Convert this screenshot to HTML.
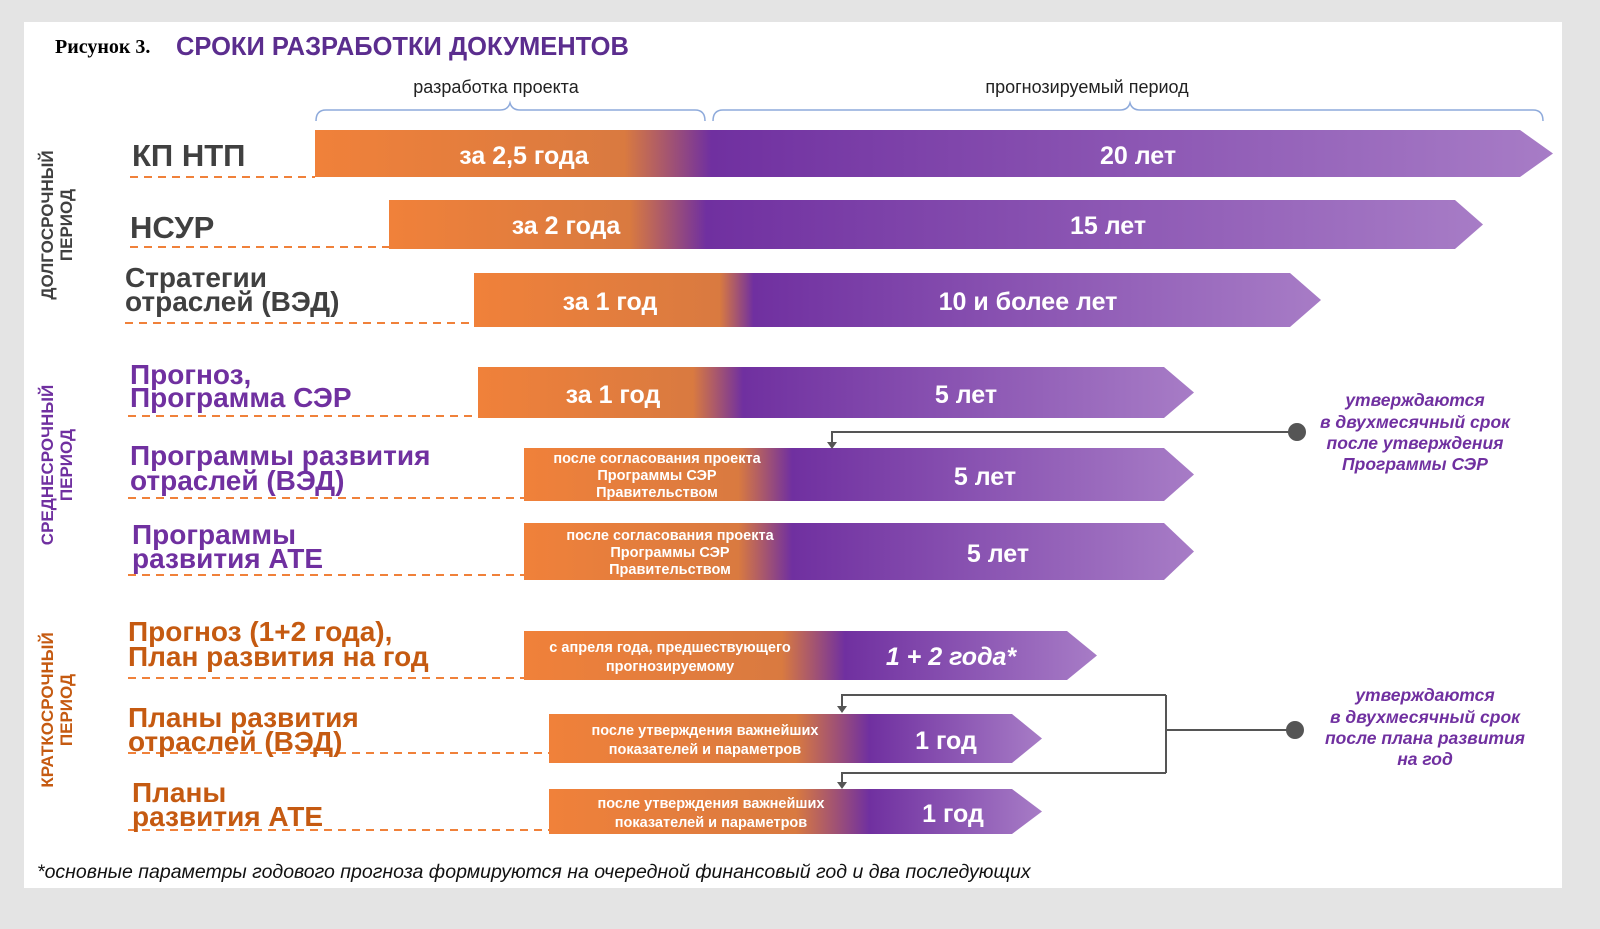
<!DOCTYPE html>
<html><head><meta charset="utf-8"><style>
body{margin:0;width:1600px;height:929px;background:#e4e4e4;overflow:hidden}
svg{position:absolute;left:0;top:0}
</style></head><body>
<svg width="1600" height="929" viewBox="0 0 1600 929" font-family="'Liberation Sans', sans-serif">
<defs>
<linearGradient id="g1" gradientUnits="userSpaceOnUse" x1="315" x2="1553"><stop offset="0" stop-color="#f0813a"/><stop offset="0.25" stop-color="#d97a40"/><stop offset="0.32" stop-color="#7030a0"/><stop offset="1" stop-color="#a77cc6"/></linearGradient>
<linearGradient id="g2" gradientUnits="userSpaceOnUse" x1="389" x2="1483"><stop offset="0" stop-color="#f0813a"/><stop offset="0.22" stop-color="#d97a40"/><stop offset="0.29" stop-color="#7030a0"/><stop offset="1" stop-color="#a77cc6"/></linearGradient>
<linearGradient id="g3" gradientUnits="userSpaceOnUse" x1="474" x2="1321"><stop offset="0" stop-color="#f0813a"/><stop offset="0.29" stop-color="#d97a40"/><stop offset="0.33" stop-color="#7030a0"/><stop offset="1" stop-color="#a77cc6"/></linearGradient>
<linearGradient id="g4" gradientUnits="userSpaceOnUse" x1="478" x2="1194"><stop offset="0" stop-color="#f0813a"/><stop offset="0.3" stop-color="#d97a40"/><stop offset="0.37" stop-color="#7030a0"/><stop offset="1" stop-color="#a77cc6"/></linearGradient>
<linearGradient id="g5" gradientUnits="userSpaceOnUse" x1="524" x2="1194"><stop offset="0" stop-color="#f0813a"/><stop offset="0.32" stop-color="#d97a40"/><stop offset="0.4" stop-color="#7030a0"/><stop offset="1" stop-color="#a77cc6"/></linearGradient>
<linearGradient id="g7" gradientUnits="userSpaceOnUse" x1="524" x2="1097"><stop offset="0" stop-color="#f0813a"/><stop offset="0.45" stop-color="#d97a40"/><stop offset="0.56" stop-color="#7030a0"/><stop offset="1" stop-color="#a77cc6"/></linearGradient>
<linearGradient id="g8" gradientUnits="userSpaceOnUse" x1="549" x2="1042"><stop offset="0" stop-color="#f0813a"/><stop offset="0.5" stop-color="#d97a40"/><stop offset="0.65" stop-color="#7030a0"/><stop offset="1" stop-color="#a77cc6"/></linearGradient>
</defs>
<rect x="24" y="22" width="1538" height="866" fill="#fff"/>
<text x="55" y="53" font-family="'Liberation Serif',serif" font-weight="bold" font-size="20" fill="#000">Рисунок 3.</text>
<text x="176" y="55" font-weight="bold" font-size="25.5" fill="#5b2d8e">СРОКИ РАЗРАБОТКИ ДОКУМЕНТОВ</text>
<g font-size="18" fill="#222" text-anchor="middle"><text x="496" y="93">разработка проекта</text><text x="1087" y="93">прогнозируемый период</text></g>
<g fill="none" stroke="#8eaadb" stroke-width="1.5">
<path d="M316 121 Q316 110 326 110 L500 110 Q508 110 510 103 Q512 110 520 110 L695 110 Q705 110 705 121"/>
<path d="M713 121 Q713 110 723 110 L1120 110 Q1128 110 1130 103 Q1132 110 1140 110 L1533 110 Q1543 110 1543 121"/>
</g>
<g>
<path d="M315 130H1520L1553 153.5L1520 177H315Z" fill="url(#g1)"/>
<path d="M389 200H1455L1483 224.5L1455 249H389Z" fill="url(#g2)"/>
<path d="M474 273H1290L1321 300L1290 327H474Z" fill="url(#g3)"/>
<path d="M478 367H1164L1194 392.5L1164 418H478Z" fill="url(#g4)"/>
<path d="M524 448H1164L1194 474.5L1164 501H524Z" fill="url(#g5)"/>
<path d="M524 523H1164L1194 551.5L1164 580H524Z" fill="url(#g5)"/>
<path d="M524 631H1067L1097 655.5L1067 680H524Z" fill="url(#g7)"/>
<path d="M549 714H1012L1042 738.5L1012 763H549Z" fill="url(#g8)"/>
<path d="M549 789H1012L1042 811.5L1012 834H549Z" fill="url(#g8)"/>
</g>
<g fill="#fff" font-weight="bold" text-anchor="middle" font-size="25">
<text x="524" y="164">за 2,5 года</text><text x="1138" y="164">20 лет</text>
<text x="566" y="234">за 2  года</text><text x="1108" y="234">15 лет</text>
<text x="610" y="310">за 1 год</text><text x="1028" y="310">10 и более лет</text>
<text x="613" y="403">за 1 год</text><text x="966" y="403">5 лет</text>
<text x="985" y="485">5 лет</text><text x="998" y="562">5 лет</text>
<text x="951" y="665" font-style="italic">1 + 2 года*</text>
<text x="946" y="749">1 год</text><text x="953" y="822">1 год</text>
</g>
<g fill="#fff" font-weight="bold" text-anchor="middle" font-size="14.5">
<text x="657" y="463">после согласования проекта</text><text x="657" y="480">Программы СЭР</text><text x="657" y="497">Правительством</text>
<text x="670" y="540">после согласования проекта</text><text x="670" y="557">Программы СЭР</text><text x="670" y="574">Правительством</text>
<text x="670" y="652">с апреля года, предшествующего</text><text x="670" y="671">прогнозируемому</text>
<text x="705" y="735">после утверждения важнейших</text><text x="705" y="754">показателей и параметров</text>
<text x="711" y="808">после утверждения важнейших</text><text x="711" y="827">показателей и параметров</text>
</g>
<g stroke="#f0813a" stroke-width="2" stroke-dasharray="8,6">
<path d="M130 177H315M130 247H389M125 323H474M128 416H478M128 498H524M128 575H524M128 678H524M128 753H549M128 830H549"/>
</g>
<g font-weight="bold" fill="#404040"><text x="132" y="166" font-size="31">КП НТП</text><text x="130" y="238" font-size="31">НСУР</text>
<text x="125" y="287" font-size="28">Стратегии</text><text x="125" y="311" font-size="28">отраслей (ВЭД)</text></g>
<g font-weight="bold" fill="#7030a0" font-size="28">
<text x="130" y="384">Прогноз,</text><text x="130" y="407">Программа СЭР</text>
<text x="130" y="465">Программы развития</text><text x="130" y="490">отраслей (ВЭД)</text>
<text x="132" y="544">Программы</text><text x="132" y="568">развития АТЕ</text></g>
<g font-weight="bold" fill="#c55a11" font-size="28">
<text x="128" y="641">Прогноз (1+2 года),</text><text x="128" y="666">План развития на год</text>
<text x="128" y="727">Планы развития</text><text x="128" y="751">отраслей (ВЭД)</text>
<text x="132" y="802">Планы</text><text x="132" y="826">развития АТЕ</text></g>
<g font-weight="bold" font-size="17" text-anchor="middle">
<g transform="translate(57 225) rotate(-90)" fill="#404040"><text y="-4">ДОЛГОСРОЧНЫЙ</text><text y="15">ПЕРИОД</text></g>
<g transform="translate(57 465) rotate(-90)" fill="#7030a0"><text y="-4">СРЕДНЕСРОЧНЫЙ</text><text y="15">ПЕРИОД</text></g>
<g transform="translate(57 710) rotate(-90)" fill="#c55a11"><text y="-4">КРАТКОСРОЧНЫЙ</text><text y="15">ПЕРИОД</text></g>
</g>
<g stroke="#555" stroke-width="2" fill="none">
<path d="M1297 432H832V444"/>
<path d="M1295 730H1166M1166 695V773M1166 695H842V709M1166 773H842V785"/>
</g>
<g fill="#555"><circle cx="1297" cy="432" r="9"/><circle cx="1295" cy="730" r="9"/>
<path d="M827 442H837L832 449Z"/><path d="M837 706H847L842 713Z"/><path d="M837 782H847L842 789Z"/></g>
<g fill="#7030a0" font-weight="bold" font-style="italic" font-size="17.5" text-anchor="middle">
<text x="1415" y="406">утверждаются</text><text x="1415" y="428">в двухмесячный срок</text><text x="1415" y="449">после утверждения</text><text x="1415" y="470">Программы СЭР</text>
<text x="1425" y="701">утверждаются</text><text x="1425" y="723">в двухмесячный срок</text><text x="1425" y="744">после плана развития</text><text x="1425" y="765">на год</text>
</g>
<text x="37" y="878" font-style="italic" font-size="19.5" fill="#111">*основные параметры годового прогноза формируются на очередной финансовый год и два последующих</text>
</svg>
</body></html>
